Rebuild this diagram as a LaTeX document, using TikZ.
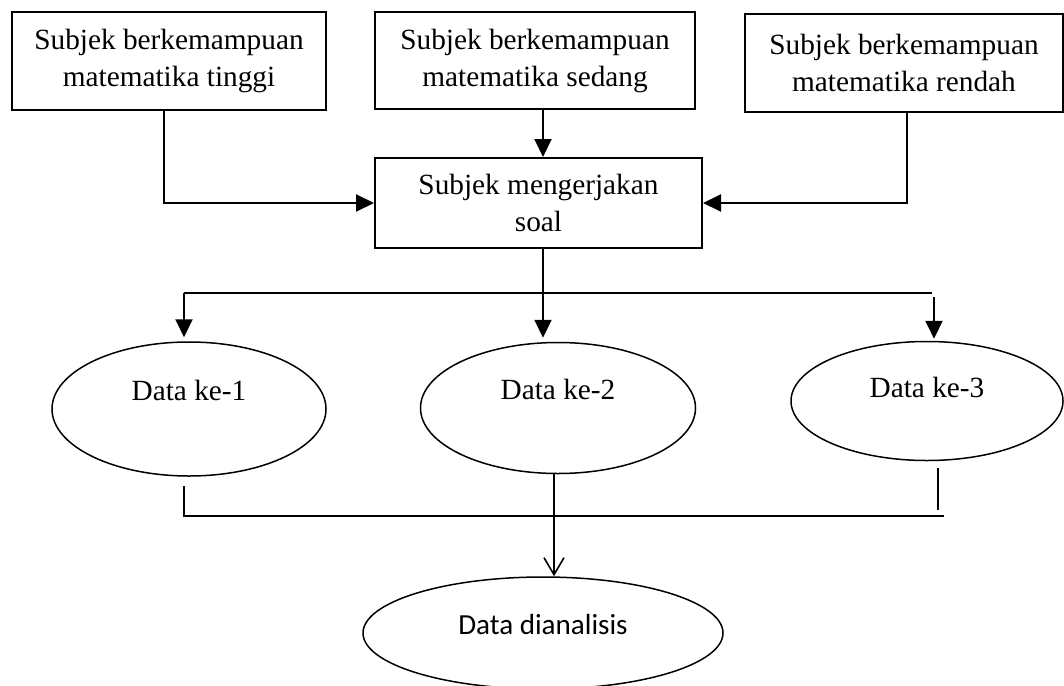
\documentclass[tikz,border=0pt]{standalone}
\usepackage{fontspec}
\setmainfont{Liberation Serif}
\newfontfamily\calfont{Carlito}
\usetikzlibrary{arrows.meta,shapes.geometric}

\begin{document}
\begin{tikzpicture}[
  x=1pt,y=-1pt,
  every node/.style={font=\fontsize{29.3}{37}\selectfont},
  box/.style={draw,line width=2pt,minimum height=97pt,align=center,inner sep=0pt},
  oval/.style={draw,ellipse,line width=1.5pt,inner sep=0pt,text height=20pt},
  arrow/.style={-{Triangle[length=18pt,width=17pt]},line width=2pt},
  wire/.style={line width=1.6pt},
  openarrow/.style={-{Straight Barb[length=17pt,width=20pt,line width=1.6pt]},line width=1.6pt}
]
\useasboundingbox (0,0) rectangle (1064,685);

% kelompok subjek
\node[box,minimum width=314pt] (tinggi) at (169,61) {Subjek berkemampuan\\matematika tinggi};
\node[box,minimum width=320pt] (sedang) at (535,60.5) {Subjek berkemampuan\\matematika sedang};
\node[box,minimum width=318pt] (rendah) at (904,63) {Subjek berkemampuan\\matematika rendah};
\node[box,minimum width=327pt,minimum height=90pt] (soal) at (538.5,203) {Subjek mengerjakan\\soal};

% data
\node[oval,minimum width=274pt,minimum height=134pt,text depth=38pt] (data1) at (189,409) {Data ke-1};
\node[oval,minimum width=275pt,minimum height=131pt,text depth=38pt] (data2) at (558,408) {Data ke-2};
\node[oval,minimum width=272pt,minimum height=119pt,text depth=28pt] (data3) at (927,401) {Data ke-3};
\node[oval,minimum width=360pt,minimum height=112pt,text depth=18pt,font=\calfont\fontsize{29.1}{35}\selectfont] (analisis) at (543,633) {Data dianalisis};

\coordinate (bagi) at (543,293);
\coordinate (gabung) at (554,516);

\draw[arrow] ([xshift=-5pt]tinggi.south) |- (soal.west);
\draw[arrow] (sedang.south -| bagi) -- (soal.north -| bagi);
\draw[arrow] ([xshift=3pt]rendah.south) |- (soal.east);

\draw[wire] (soal.south -| bagi) -- (bagi);
\draw[wire] ([xshift=-5pt]data1.north |- bagi) -- ([xshift=5pt]data3.north |- bagi);
\draw[arrow] ([xshift=-5pt]data1.north |- bagi) -- ([xshift=-5pt,yshift=4pt]data1.north);
\draw[arrow] (bagi) -- ([yshift=4pt]bagi |- data2.north);
\draw[arrow] ([xshift=7pt,yshift=-4pt]data3.north |- bagi) -- ([xshift=7pt,yshift=2pt]data3.north);

\draw[wire] ([xshift=-5pt,yshift=-9pt]data1.south) -- ([xshift=-5pt]data1.south |- gabung) -- ([xshift=17pt]data3.south |- gabung);
\draw[wire] ([xshift=11pt,yshift=-7pt]data3.south) -- ([xshift=11pt,yshift=6pt]data3.south |- gabung);
\draw[openarrow] (data2.south -| gabung) -- (analisis.north -| gabung);
\end{tikzpicture}
\end{document}
